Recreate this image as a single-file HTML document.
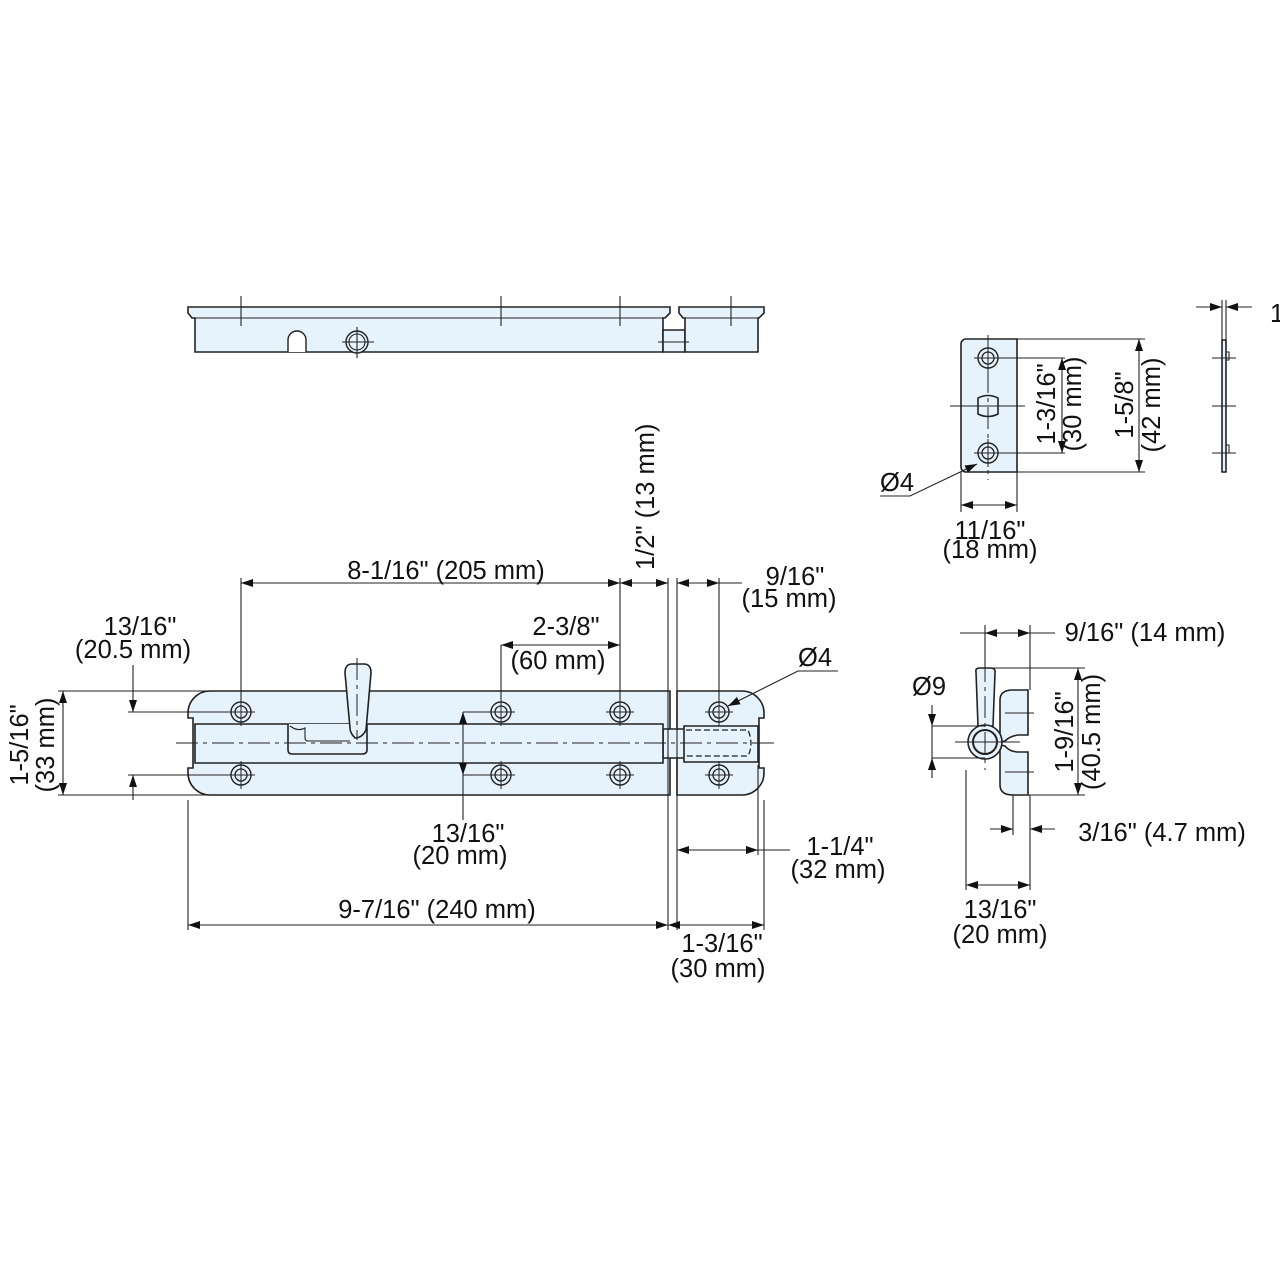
<!DOCTYPE html>
<html><head><meta charset="utf-8"><style>
html,body{margin:0;padding:0;background:#fff}
svg{display:block}
text{font-family:"Liberation Sans",sans-serif;font-size:25.5px;fill:#111}
.o{fill:#e6f3fc;stroke:#222;stroke-width:1.6}
.l{stroke:#222;stroke-width:1.1;fill:none}
.c{stroke:#222;stroke-width:1;fill:none;stroke-dasharray:22 5 4 5}
.d{stroke:#222;stroke-width:1.3;fill:none;stroke-dasharray:6 3}
</style></head><body>
<svg width="1280" height="1280" viewBox="0 0 1280 1280" xmlns="http://www.w3.org/2000/svg">
<defs>
<marker id="a" viewBox="0 0 12 8" refX="12" refY="4" markerWidth="12" markerHeight="8" orient="auto-start-reverse" markerUnits="userSpaceOnUse"><path d="M0,0L12,4L0,8Z" fill="#111"/></marker>
<g id="h"><circle r="10" fill="#e6f3fc" stroke="#222" stroke-width="1.4"/><circle r="6" fill="none" stroke="#222" stroke-width="1.3"/><path d="M-14,0H14M0,-14V14" stroke="#222" stroke-width="1"/></g>
</defs>

<!-- TOP VIEW -->
<path class="o" d="M188,307H670V313L665,318H663V352H195V318H192L188,313Z"/>
<path class="l" d="M192,318H663"/>
<path class="o" d="M663,330H685V352H663Z"/>
<path class="o" d="M679,307H764V313L759,318H758V352H685V318H683L679,313Z"/>
<path class="l" d="M683,318H758"/>
<path d="M288,352V340A9,9 0 0 1 306,340V352" fill="#fff" stroke="#222" stroke-width="1.4"/>
<circle cx="357" cy="342" r="11" fill="#e6f3fc" stroke="#222" stroke-width="1.4"/><circle cx="357" cy="342" r="8" fill="none" stroke="#222" stroke-width="1.1"/>
<path class="l" d="M342,342H374M357,327V358"/>
<path class="l" d="M241,296V326M501,296V326M620,296V326M731,296V326M658,342H689"/>

<!-- FRONT VIEW -->
<path class="o" d="M210,691H670V795H210A22,22 0 0 1 188,773V768H193V718H188V713A22,22 0 0 1 210,691Z"/>
<path class="o" d="M677,691H742A22,22 0 0 1 764,713V718H759V768H764V773A22,22 0 0 1 742,795H677Z"/>
<path class="o" d="M663,729H685V758H663Z"/>
<path class="o" d="M684,726H758V762H684Z"/>
<path class="d" d="M686,730H748Q754,744 748,756H686"/>
<path class="o" d="M195,724H663V763H195Z"/>
<path class="o" d="M288,724V750Q288,754 292,754H362Q367,754 367,750V724"/>
<path class="l" d="M290,726Q298,732 305,728V738Q305,741 308,741H350"/>
<path class="o" d="M345,673Q345,664 352,664H364Q371,664 371,673L366,730Q362,738 355,738Q350,733 350,728Z"/>
<path class="c" d="M176,743H774M357,658V740"/>
<use href="#h" x="241" y="712"/><use href="#h" x="241" y="775"/>
<use href="#h" x="501" y="712"/><use href="#h" x="501" y="775"/>
<use href="#h" x="620" y="712"/><use href="#h" x="620" y="775"/>
<use href="#h" x="719" y="712"/><use href="#h" x="719" y="775"/>

<!-- dims main -->
<path class="l" d="M241,578V700M620,578V700M501,645V700M668,578V930M677,578V930M719,578V700M188,800V930M764,800V930M758,765V855"/>
<path class="l" d="M241,583H620" marker-start="url(#a)" marker-end="url(#a)"/>
<path class="l" d="M620,583H668" marker-start="url(#a)" marker-end="url(#a)"/>
<path class="l" d="M677,583H719" marker-start="url(#a)" marker-end="url(#a)"/>
<path class="l" d="M719,583H742"/>
<text x="446" y="579" text-anchor="middle">8-1/16" (205 mm)</text>
<text transform="translate(654,570) rotate(-90)">1/2" (13 mm)</text>
<text x="795" y="585" text-anchor="middle">9/16"</text>
<text x="789" y="607" text-anchor="middle">(15 mm)</text>
<path class="l" d="M501,645H620" marker-start="url(#a)" marker-end="url(#a)"/>
<text x="566" y="635" text-anchor="middle">2-3/8"</text>
<text x="558" y="669" text-anchor="middle">(60 mm)</text>
<text x="140" y="635" text-anchor="middle">13/16"</text>
<text x="133" y="658" text-anchor="middle">(20.5 mm)</text>
<path class="l" d="M128,712H241M128,775H241M58,691H210M58,795H210"/>
<path class="l" d="M133,665V712" marker-end="url(#a)"/>
<path class="l" d="M133,800V775" marker-end="url(#a)"/>
<path class="l" d="M63,691V795" marker-start="url(#a)" marker-end="url(#a)"/>
<text transform="translate(28,745) rotate(-90)" text-anchor="middle">1-5/16"</text>
<text transform="translate(54,745) rotate(-90)" text-anchor="middle">(33 mm)</text>
<text x="815" y="666" text-anchor="middle">Ø4</text>
<path class="l" d="M838,671H798L728,706" marker-end="url(#a)"/>
<path class="l" d="M463,712H501M463,775H501"/>
<path class="l" d="M463,712V775" marker-start="url(#a)" marker-end="url(#a)"/>
<path class="l" d="M463,775V820"/>
<text x="468" y="842" text-anchor="middle">13/16"</text>
<text x="460" y="864" text-anchor="middle">(20 mm)</text>
<path class="l" d="M188,925H668" marker-start="url(#a)" marker-end="url(#a)"/>
<text x="437" y="918" text-anchor="middle">9-7/16" (240 mm)</text>
<path class="l" d="M677,850H758" marker-start="url(#a)" marker-end="url(#a)"/>
<path class="l" d="M758,850H790"/>
<text x="840" y="855" text-anchor="middle">1-1/4"</text>
<text x="838" y="878" text-anchor="middle">(32 mm)</text>
<path class="l" d="M668,925H764" marker-start="url(#a)" marker-end="url(#a)"/>
<text x="722" y="952" text-anchor="middle">1-3/16"</text>
<text x="718" y="977" text-anchor="middle">(30 mm)</text>

<!-- STRIKE PLATE -->
<path class="o" d="M966,339H1017V472H966A5,5 0 0 1 961,467V344A5,5 0 0 1 966,339Z"/>
<path class="o" d="M978,398Q988,393 998,398V414Q988,419 978,414Z"/>
<use href="#h" x="988" y="358"/><use href="#h" x="988" y="453"/>
<path class="c" d="M988,335V480"/>
<path class="l" d="M950,406H1025M988,358H1065M988,453H1065M1017,339H1145M1017,472H1145M961,472V512M1017,472V512"/>
<path class="l" d="M1062,358V453" marker-start="url(#a)" marker-end="url(#a)"/>
<path class="l" d="M1139,339V472" marker-start="url(#a)" marker-end="url(#a)"/>
<text transform="translate(1055,404) rotate(-90)" text-anchor="middle">1-3/16"</text>
<text transform="translate(1081,404) rotate(-90)" text-anchor="middle">(30 mm)</text>
<text transform="translate(1133,405) rotate(-90)" text-anchor="middle">1-5/8"</text>
<text transform="translate(1160,405) rotate(-90)" text-anchor="middle">(42 mm)</text>
<text x="897" y="491" text-anchor="middle">Ø4</text>
<path class="l" d="M880,496H910L977,464" marker-end="url(#a)"/>
<path class="l" d="M961,505H1017" marker-start="url(#a)" marker-end="url(#a)"/>
<text x="990" y="539" text-anchor="middle">11/16"</text>
<text x="990" y="558" text-anchor="middle">(18 mm)</text>
<!-- side of strike -->
<path class="o" d="M1222,340H1226V472H1222Z"/>
<path class="l" d="M1226,352H1229V360H1226M1226,445H1229V453H1226M1222,300V340M1226,300V340M1212,358H1236M1212,406H1236M1212,453H1236"/>
<path class="l" d="M1196,307H1222" marker-end="url(#a)"/>
<path class="l" d="M1252,307H1226" marker-end="url(#a)"/>
<text x="1270" y="322">1</text>

<!-- LATCH SIDE VIEW -->
<path class="o" d="M1013,690H1028V735H1018Q1010,736 1005,741L1000,742V700Q1000,690 1013,690Z"/>
<path class="o" d="M1000,745L1005,746Q1010,752 1018,752H1028V795H1013Q1000,795 1000,785Z"/>
<path class="o" d="M976,672Q975,668 980,668H990Q996,668 995,673L993,726L978,726Z"/>
<circle cx="985" cy="742" r="17" fill="#e6f3fc" stroke="#222" stroke-width="1.6"/>
<circle cx="985" cy="742" r="12" fill="#e6f3fc" stroke="#222" stroke-width="2"/>
<path class="c" d="M985,660V770"/>
<path class="l" d="M955,742H1020M1005,713H1034M1005,772H1034M985,625V668M1030,625V690M985,668H1085M1028,795H1085M932,726H985M932,758H985M966,770V890M1030,795V890M1013,795V835"/>
<path class="l" d="M985,633H1030" marker-start="url(#a)" marker-end="url(#a)"/>
<path class="l" d="M960,633H985M1030,633H1055"/>
<text x="1145" y="641" text-anchor="middle">9/16" (14 mm)</text>
<text x="929" y="695" text-anchor="middle">Ø9</text>
<path class="l" d="M932,705V726" marker-end="url(#a)"/>
<path class="l" d="M932,778V758" marker-end="url(#a)"/>
<path class="l" d="M932,726V758"/>
<path class="l" d="M1078,668V795" marker-start="url(#a)" marker-end="url(#a)"/>
<text transform="translate(1073,732) rotate(-90)" text-anchor="middle">1-9/16"</text>
<text transform="translate(1100,732) rotate(-90)" text-anchor="middle">(40.5 mm)</text>
<path class="l" d="M990,829H1013" marker-end="url(#a)"/>
<path class="l" d="M1055,829H1030" marker-end="url(#a)"/>
<text x="1162" y="841" text-anchor="middle">3/16" (4.7 mm)</text>
<path class="l" d="M966,885H1030" marker-start="url(#a)" marker-end="url(#a)"/>
<text x="1000" y="918" text-anchor="middle">13/16"</text>
<text x="1000" y="943" text-anchor="middle">(20 mm)</text>
</svg>
</body></html>
